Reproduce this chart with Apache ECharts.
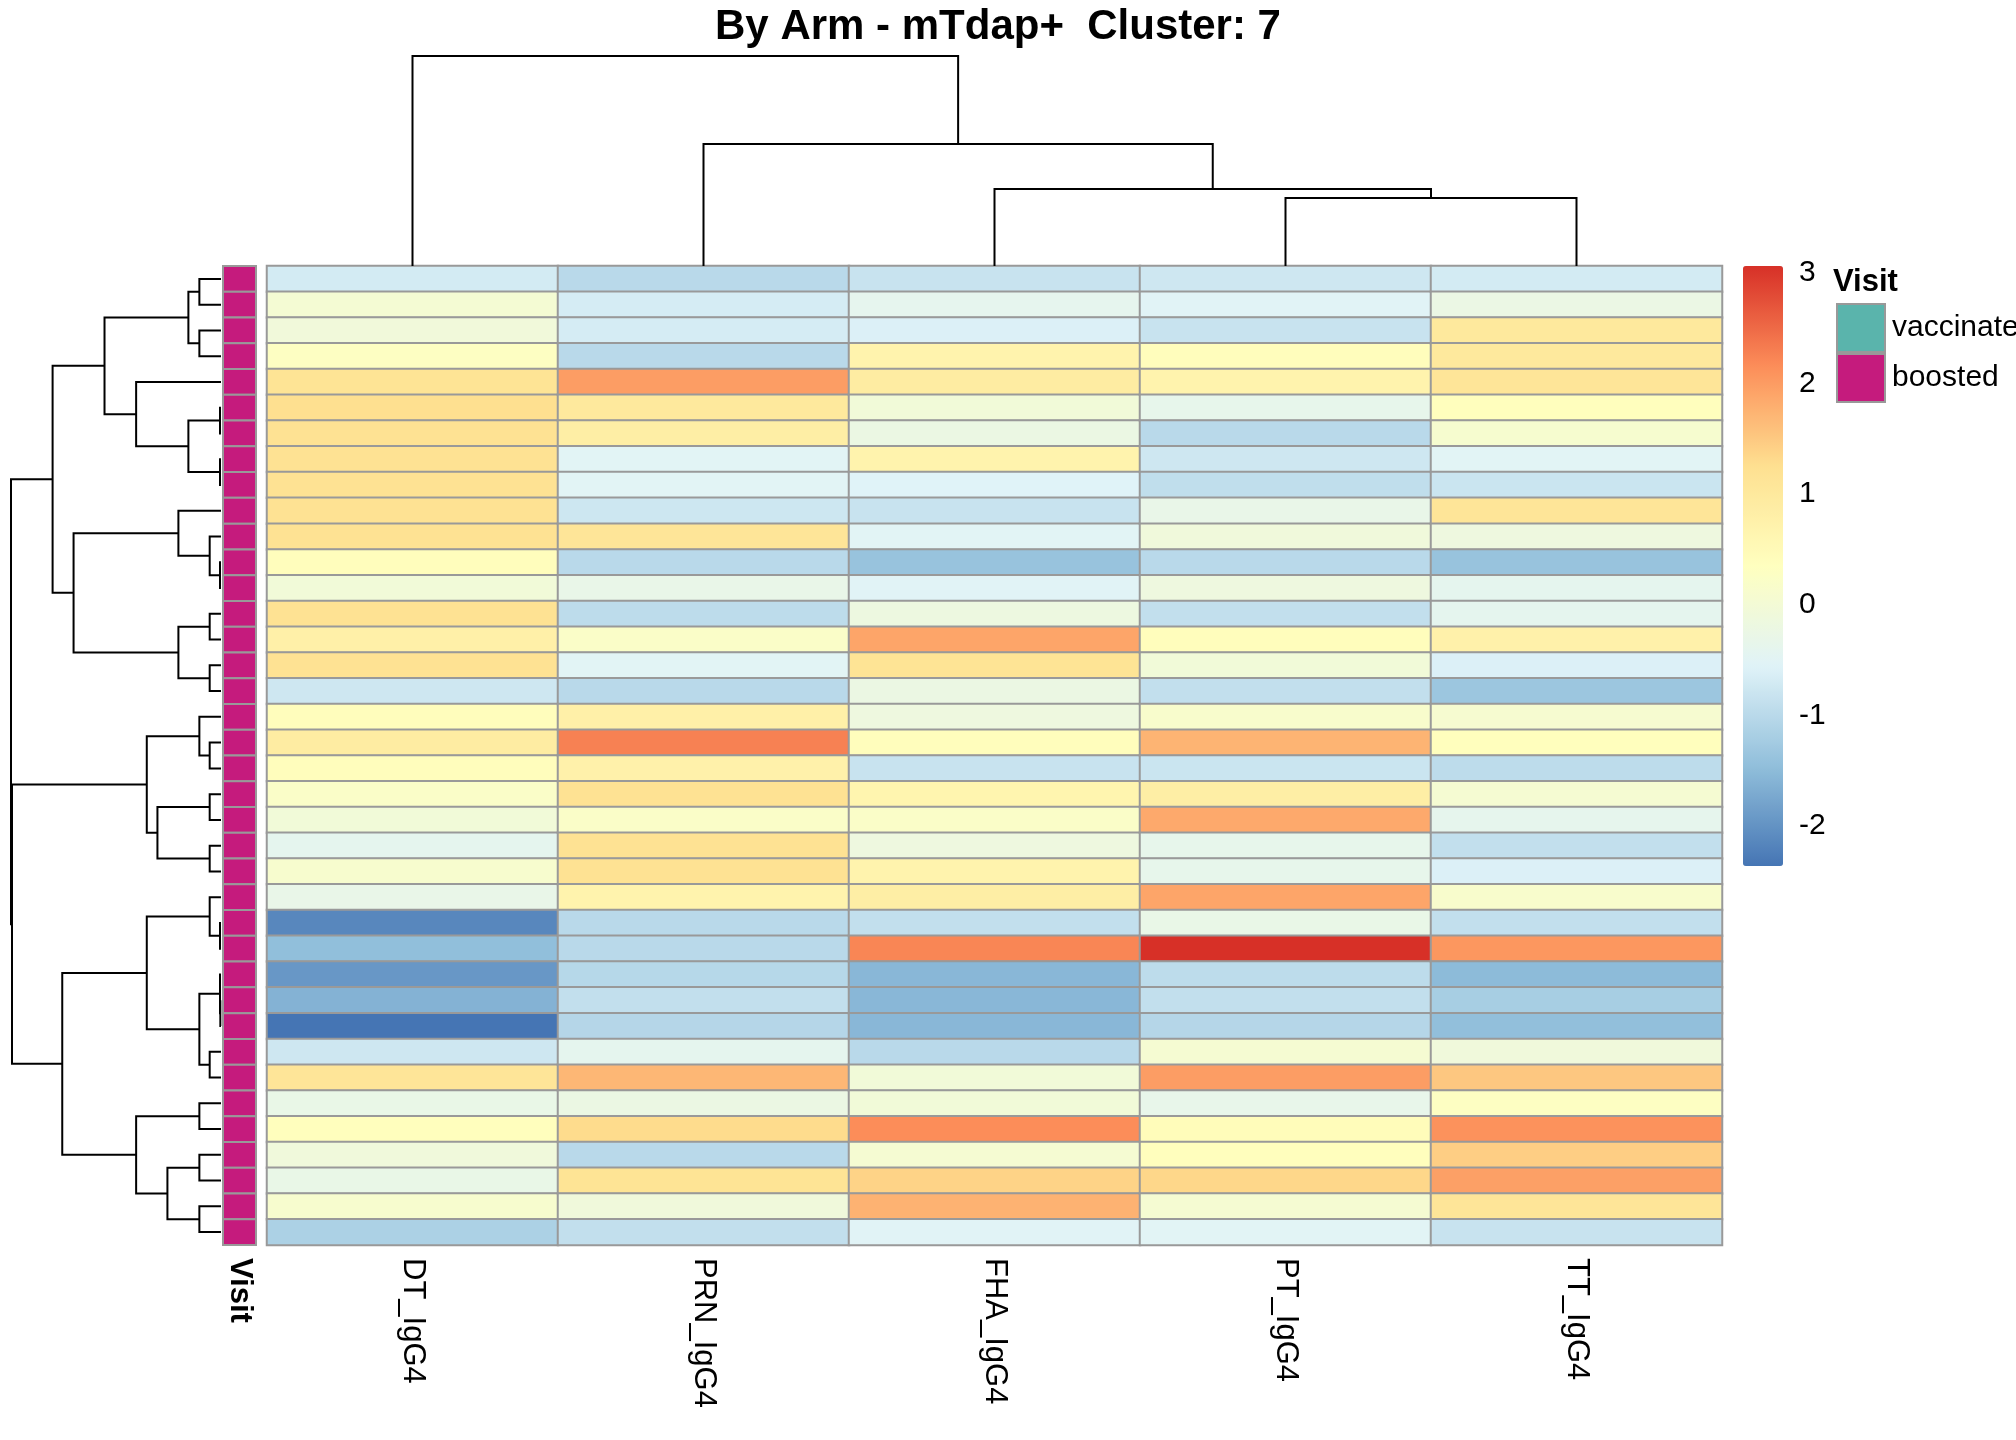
<!DOCTYPE html>
<html><head><meta charset="utf-8">
<script src="https://cdn.jsdelivr.net/npm/echarts@6/dist/echarts.min.js"></script>
<style>html,body{margin:0;padding:0;background:#fff}#chart{width:2016px;height:1440px}</style>
</head><body><div id="chart"></div>
<script>
// ---------------- DATA ----------------
const columns = ['DT_IgG4', 'PRN_IgG4', 'FHA_IgG4', 'PT_IgG4', 'TT_IgG4'];
const dtIgG4  = [-0.70, 0.03, -0.07, 0.30, 1.15, 1.25, 1.20, 1.20, 1.20, 1.20, 1.20, 0.40, -0.05, 1.20, 0.80, 1.20, -0.76, 0.40, 0.90, 0.40, 0.20, -0.05, -0.40, 0.12, -0.30, -2.14, -1.46, -1.94, -1.61, -2.36, -0.76, 1.10, -0.28, 0.38, -0.10, -0.28, 0.12, -1.15];
const prnIgG4 = [-1.00, -0.68, -0.68, -1.00, 1.98, 1.00, 0.85, -0.50, -0.50, -0.77, 1.10, -1.00, -0.30, -0.95, 0.20, -0.50, -1.00, 0.80, 2.27, 0.75, 1.20, 0.20, 1.20, 1.20, 0.70, -1.00, -1.00, -1.03, -0.90, -1.05, -0.40, 1.70, -0.22, 1.30, -1.00, 1.15, -0.10, -0.90];
const fhaIgG4 = [-0.83, -0.39, -0.60, 0.70, 0.90, -0.05, -0.22, 0.70, -0.55, -0.83, -0.50, -1.38, -0.52, -0.18, 1.90, 1.15, -0.22, -0.15, 0.40, -0.83, 0.65, 0.20, -0.15, 0.70, 0.85, -0.90, 2.22, -1.55, -1.55, -1.55, -1.00, -0.05, -0.05, 2.16, 0.05, 1.40, 1.75, -0.52];
const ptIgG4  = [-0.76, -0.52, -0.83, 0.40, 0.70, -0.35, -1.00, -0.76, -0.92, -0.30, -0.10, -1.00, -0.15, -0.90, 0.40, -0.05, -0.90, 0.15, 1.73, -0.80, 0.85, 1.85, -0.35, -0.35, 1.90, -0.28, 3.06, -0.95, -0.90, -1.05, 0.05, 1.98, -0.33, 0.45, 0.38, 1.35, 0.05, -0.50];
const ttIgG4  = [-0.70, -0.24, 1.00, 1.00, 1.10, 0.38, 0.10, -0.50, -0.80, 1.10, -0.15, -1.38, -0.40, -0.40, 0.75, -0.60, -1.33, 0.08, 0.38, -0.95, 0.05, -0.38, -0.90, -0.60, 0.15, -0.90, 2.05, -1.50, -1.20, -1.45, -0.10, 1.52, 0.30, 2.10, 1.45, 1.95, 1.10, -0.83];
const visit = ['boosted','boosted','boosted','boosted','boosted','boosted','boosted','boosted','boosted','boosted',
               'boosted','boosted','boosted','boosted','boosted','boosted','boosted','boosted','boosted','boosted',
               'boosted','boosted','boosted','boosted','boosted','boosted','boosted','boosted','boosted','boosted',
               'boosted','boosted','boosted','boosted','boosted','boosted','boosted','boosted'];
const visitLevels = ['vaccinated', 'boosted'];
const colorbarTicks = [-2, -1, 0, 1, 2, 3];

// column dendrogram (R hclust style: negative = leaf, positive = earlier merge)
const colMergeA = [-4, -3, -2, -1];
const colMergeB = [-5, 1, 2, 3];
const colMergeH = [68, 77, 122, 210];

// row dendrogram
const rowMergeA = [-1,-3,1,-6,-8,4,-5,3,-12,-11,-10,-14,-16,12,11,8,-19,-18,-21,-23,19,18,-26,-25,-29,-28,-31,26,24,-33,-35,-37,31,30,29,22,16];
const rowMergeB = [-2,-4,2,-7,-9,5,6,7,-13,9,10,-15,-17,13,14,15,-20,17,-22,-24,20,21,-27,23,-30,25,-32,27,28,-34,-36,-38,32,33,34,35,36];
const rowMergeH = [65,65,98,3,3,98,255,350,3,34,128,34,34,128,443,506,34,65,34,34,191,223,3,34,2,3,34,65,223,65,65,65,161,255,477,628,631];

// ---------------- BUILD ----------------
const FONT = 'Liberation Sans, Arial, sans-serif';
const palette = ['#4575B4','#91BFDB','#E0F3F8','#FFFFBF','#FEE090','#FC8D59','#D73027'];
const visitColors = { vaccinated: '#5AB4AC', boosted: '#C51B7D' };
const valueCols = [dtIgG4, prnIgG4, fhaIgG4, ptIgG4, ttIgG4];
const nRows = dtIgG4.length;
const rowNames = dtIgG4.map((_, i) => String(i + 1));
const heatData = [];
valueCols.forEach((col, c) => col.forEach((v, r) => heatData.push([c, r, v])));
const allVals = valueCols.flat();
const vMin = Math.min(...allVals), vMax = Math.max(...allVals);

function dendro(A, B, H, horizontal) {
  const pos = [], hgt = [], segs = [];
  const node = r => r < 0 ? { p: -r - 1 + 0.5, h: 0 } : { p: pos[r - 1], h: hgt[r - 1] };
  for (let k = 0; k < A.length; k++) {
    const a = node(A[k]), b = node(B[k]), h = H[k];
    pos[k] = (a.p + b.p) / 2; hgt[k] = h;
    segs.push({ coords: horizontal
      ? [[a.h, a.p], [h, a.p], [h, b.p], [b.h, b.p]]
      : [[a.p, a.h], [a.p, h], [b.p, h], [b.p, b.h]] });
  }
  return segs;
}
const rowSegs = dendro(rowMergeA, rowMergeB, rowMergeH, true);
const colSegs = dendro(colMergeA, colMergeB, colMergeH, false);
const rowMax = Math.max(...rowMergeH), colMax = Math.max(...colMergeH);

const HM = { left: 267, top: 266, width: 1455, height: 979 };
const hidden = { show: false };
const noAxisBits = { axisLine: hidden, axisTick: hidden, splitLine: hidden };

const annoSeries = visitLevels.map(level => ({
  type: 'custom', name: level, xAxisIndex: 1, yAxisIndex: 1,
  itemStyle: { color: visitColors[level] },
  data: visit.map((v, r) => v === level ? [0, r] : null).filter(d => d),
  renderItem: (params, api) => {
    const p = api.coord([api.value(0), api.value(1)]);
    const s = api.size([1, 1]);
    return { type: 'rect', shape: { x: p[0] - s[0] / 2, y: p[1] - s[1] / 2, width: s[0], height: s[1] },
             style: { fill: visitColors[level], stroke: '#999999', lineWidth: 2 } };
  },
  silent: true
}));

const option = {
  backgroundColor: '#ffffff',
  animation: false,
  textStyle: { fontFamily: FONT },
  title: [
    { text: 'By Arm - mTdap+  Cluster: 7', left: 993, textAlign: 'center', top: 1,
      textStyle: { fontSize: 42, fontWeight: 'bold', color: '#000', fontFamily: FONT } },
    { text: 'Visit', left: 1828, top: 262,
      textStyle: { fontSize: 31, fontWeight: 'bold', color: '#000', fontFamily: FONT } }
  ],
  legend: {
    data: visitLevels, left: 1831, top: 298, orient: 'vertical', icon: 'rect',
    itemWidth: 48, itemHeight: 48, itemGap: 0, selectedMode: false,
    itemStyle: { borderColor: '#999999', borderWidth: 2 },
    textStyle: { fontSize: 30, color: '#000', fontFamily: FONT, padding: [0, 0, 0, 2] }
  },
  grid: [
    { left: HM.left, top: HM.top, width: HM.width, height: HM.height },
    { left: 223, top: HM.top, width: 33, height: HM.height },
    { left: 11, top: HM.top, width: 210, height: HM.height },
    { left: HM.left, top: 56, width: HM.width, height: 210 },
    { left: 1743, top: 266, width: 40, height: 600 }
  ],
  xAxis: [
    { type: 'category', gridIndex: 0, data: columns, position: 'bottom', ...noAxisBits,
      axisLabel: { rotate: -90, fontSize: 31, color: '#000', margin: 13, fontFamily: FONT } },
    { type: 'category', gridIndex: 1, data: ['Visit'], position: 'bottom', ...noAxisBits,
      axisLabel: { rotate: -90, fontSize: 31, fontWeight: 'bold', color: '#000', margin: 13, fontFamily: FONT } },
    { type: 'value', gridIndex: 2, min: 0, max: rowMax, inverse: true, show: false },
    { type: 'value', gridIndex: 3, min: 0, max: columns.length, show: false },
    { type: 'value', gridIndex: 4, show: false }
  ],
  yAxis: [
    { type: 'category', gridIndex: 0, data: rowNames, inverse: true, show: false },
    { type: 'category', gridIndex: 1, data: rowNames, inverse: true, show: false },
    { type: 'value', gridIndex: 2, min: 0, max: nRows, inverse: true, show: false },
    { type: 'value', gridIndex: 3, min: 0, max: colMax, show: false },
    { type: 'value', gridIndex: 4, min: vMin, max: vMax, position: 'right', ...noAxisBits,
      axisLabel: { customValues: colorbarTicks, fontSize: 30, color: '#000', margin: 16, fontFamily: FONT } }
  ],
  visualMap: {
    type: 'continuous', seriesIndex: 0, min: vMin, max: vMax, calculable: false,
    left: 1743, top: 266, itemWidth: 40, itemHeight: 600, padding: 0,
    inRange: { color: palette }, text: null, hoverLink: false
  },
  series: [
    { type: 'heatmap', xAxisIndex: 0, yAxisIndex: 0, data: heatData, silent: true,
      itemStyle: { borderColor: '#999999', borderWidth: 2 }, emphasis: { disabled: true }, progressive: 0 },
    ...annoSeries,
    { type: 'lines', coordinateSystem: 'cartesian2d', xAxisIndex: 2, yAxisIndex: 2, polyline: true,
      data: rowSegs, silent: true, lineStyle: { color: '#000', width: 2, opacity: 1 } },
    { type: 'lines', coordinateSystem: 'cartesian2d', xAxisIndex: 3, yAxisIndex: 3, polyline: true,
      data: colSegs, silent: true, lineStyle: { color: '#000', width: 2, opacity: 1 } }
  ]
};
const chart = echarts.init(document.getElementById('chart'), null, { renderer: 'canvas' });
chart.setOption(option);
</script></body></html>
